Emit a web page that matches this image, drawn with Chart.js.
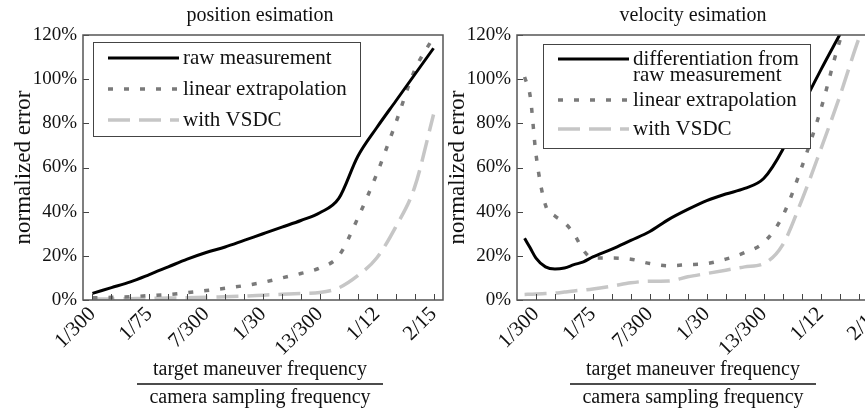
<!DOCTYPE html>
<html>
<head>
<meta charset="utf-8">
<script src="https://cdn.jsdelivr.net/npm/chart.js@4.4.1/dist/chart.umd.min.js"></script>
<style>
  html, body { margin: 0; padding: 0; background: #fff; overflow: hidden; }
  body { width: 865px; height: 411px; position: relative; }
  canvas { position: absolute; top: 0; }
  #pos { left: 0; }
  #vel { left: 434px; }
</style>
</head>
<body>
<canvas id="pos" width="446" height="411"></canvas>
<canvas id="vel" width="460" height="411"></canvas>
<script>
// x tick labels, one every third tick
const tickLabels = ['1/300', '1/75', '7/300', '1/30', '13/300', '1/12', '2/15'];
const tickIdx = [0, 1, 2, 3, 4, 5, 6, 7, 8, 9, 10, 11, 12, 13, 14, 15, 16, 17, 18];

// position panel (tick index -> normalized error %)
const posX = [0, 1, 2, 3, 4, 5, 6, 7, 8, 9, 10, 11, 12, 13, 14, 15, 16, 17, 18];
const posRaw = [3, 5.6, 8.2, 11.5, 15, 18.5, 21.5, 24, 27, 30, 33, 36, 39.5, 46, 65, 78, 90, 102, 114];
const posLinear = [1, 1.2, 1.5, 2, 2.5, 3.3, 4.3, 5.3, 6.5, 8, 10, 12, 14.5, 20, 37, 57, 80, 104, 119];
const posVsdc = [0.5, 0.5, 0.6, 0.7, 0.9, 1, 1.2, 1.5, 1.8, 2.2, 2.6, 3, 3.4, 5.5, 11, 19, 33, 51, 84];

// velocity panel
const velX = [-0.6, -0.3, 0, 0.5, 1, 1.5, 2, 2.5, 3, 4, 5, 6, 7, 8, 9, 10, 11, 12, 13, 14, 15, 16, 17, 18];
const velRaw = [28, 23.5, 19, 15, 14, 14.5, 16, 17.3, 19.5, 23, 27, 31, 36.5, 41, 45, 48, 50.5, 55, 68, 87, 104, 120, 136, 150];
const velLinear = [101, 92, 66, 43, 38, 35, 30, 22.5, 19, 19, 18.5, 16.5, 15.5, 16, 16.5, 18.5, 21.5, 26, 38, 60, 86, 117, 140, 160];
const velVsdc = [2.5, 2.6, 2.7, 2.9, 3.1, 3.6, 4.1, 4.5, 5, 6.3, 7.8, 8.5, 8.6, 10.5, 12, 13.5, 15, 16.5, 25, 45, 68, 92, 118, 140];

const posNames = ['raw measurement', 'linear extrapolation', 'with VSDC'];
const velNames = [['differentiation from', 'raw measurement'], 'linear extrapolation', 'with VSDC'];

const SERIF = "'Liberation Serif', 'Times New Roman', serif";

function pts(xs, ys) {
  return xs.map((x, i) => ({ x: x, y: ys[i] }));
}

// frame, inward ticks, boxed legend, title and fraction-style x title
const decorPlugin = {
  id: 'decor',
  afterDraw(chart, args, o) {
    const ctx = chart.ctx;
    const a = chart.chartArea;
    const xs = chart.scales.x, ys = chart.scales.y;
    ctx.save();

    ctx.strokeStyle = '#444';
    ctx.lineWidth = 1;
    ctx.beginPath();
    xs.ticks.forEach(t => {
      const px = Math.round(xs.getPixelForValue(t.value)) + 0.5;
      ctx.moveTo(px, a.bottom);
      ctx.lineTo(px, a.bottom - 6);
    });
    ys.ticks.forEach(t => {
      const py = Math.round(ys.getPixelForValue(t.value)) + 0.5;
      ctx.moveTo(a.left, py);
      ctx.lineTo(a.left + 6, py);
    });
    ctx.stroke();

    ctx.strokeStyle = '#555';
    ctx.lineWidth = 1.5;
    ctx.strokeRect(a.left, a.top, a.right - a.left, a.bottom - a.top);

    // legend box
    const bx = a.left + o.box.dx, by = a.top + o.box.dy;
    ctx.fillStyle = '#fff';
    ctx.fillRect(bx, by, o.box.w, o.box.h);
    ctx.strokeStyle = '#444';
    ctx.lineWidth = 1;
    ctx.strokeRect(bx + 0.5, by + 0.5, o.box.w, o.box.h);
    ctx.font = '21px ' + SERIF;
    ctx.textBaseline = 'middle';
    ctx.textAlign = 'left';
    chart.data.datasets.forEach((ds, i) => {
      const ry = by + o.box.rows[i];
      ctx.strokeStyle = ds.borderColor;
      ctx.lineWidth = ds.borderWidth;
      ctx.setLineDash(ds.borderDash || []);
      ctx.beginPath();
      ctx.moveTo(bx + 15, ry);
      ctx.lineTo(bx + 86, ry);
      ctx.stroke();
      ctx.setLineDash([]);
      ctx.fillStyle = '#111';
      const lines = Array.isArray(ds.label) ? ds.label : [ds.label];
      lines.forEach((s, k) => ctx.fillText(s, bx + 90, ry + k * o.box.gap));
    });

    // panel title
    ctx.font = '20px ' + SERIF;
    ctx.textAlign = 'center';
    ctx.fillStyle = '#111';
    const cx = a.left + o.centerDx;
    ctx.fillText(o.title, cx, 16);

    // fraction under the x axis
    ctx.fillText('target maneuver frequency', cx, 370);
    ctx.fillText('camera sampling frequency', cx, 398);
    ctx.strokeStyle = '#111';
    ctx.lineWidth = 1.5;
    ctx.beginPath();
    ctx.moveTo(cx - 123, 384);
    ctx.lineTo(cx + 123, 384);
    ctx.stroke();

    ctx.restore();
  }
};

function makeChart(id, title, names, xs, series, xMin, padRight, box, centerDx) {
  const styles = [
    { borderColor: '#000', borderWidth: 3, borderDash: [] },
    { borderColor: '#7a7a7a', borderWidth: 3.5, borderDash: [5, 11] },
    { borderColor: '#c6c6c6', borderWidth: 3.5, borderDash: [22, 9] }
  ];
  return new Chart(document.getElementById(id), {
    type: 'line',
    data: {
      datasets: series.map((ys, i) => Object.assign({
        label: names[i],
        data: pts(xs, ys),
        pointRadius: 0,
        fill: false,
        cubicInterpolationMode: 'monotone'
      }, styles[i]))
    },
    options: {
      responsive: false,
      animation: false,
      layout: { padding: { top: 35, right: padRight, left: 0, bottom: 0 } },
      plugins: {
        legend: { display: false },
        title: { display: false },
        tooltip: { enabled: false },
        decor: { title: title, box: box, centerDx: centerDx }
      },
      scales: {
        x: {
          type: 'linear',
          min: xMin,
          max: 18.5,
          grid: { display: false, drawTicks: false },
          border: { display: false },
          afterBuildTicks: s => { s.ticks = tickIdx.map(v => ({ value: v })); },
          afterFit: s => { s.height = 111; s.paddingLeft = 0; s.paddingRight = 0; },
          ticks: {
            autoSkip: false,
            minRotation: 45,
            maxRotation: 45,
            padding: 2,
            color: '#111',
            font: { family: SERIF, size: 21 },
            callback: v => (v % 3 === 0) ? tickLabels[v / 3] : ''
          }
        },
        y: {
          min: 0,
          max: 120,
          grid: { display: false, drawTicks: false },
          border: { display: false },
          afterFit: s => { s.width = 83; },
          ticks: {
            stepSize: 20,
            padding: 6,
            color: '#111',
            font: { family: SERIF, size: 19 },
            callback: v => v + '%'
          },
          title: {
            display: true,
            text: 'normalized error',
            color: '#111',
            font: { family: SERIF, size: 23 },
            padding: { top: 10, bottom: 0 }
          }
        }
      }
    },
    plugins: [decorPlugin]
  });
}

makeChart('pos', 'position esimation', posNames, posX, [posRaw, posLinear, posVsdc], -0.5, 3,
  { dx: 10, dy: 7, w: 267, h: 94, rows: [16, 47, 78], gap: 16 }, 177);
makeChart('vel', 'velocity esimation', velNames, velX, [velRaw, velLinear, velVsdc], -1, 7,
  { dx: 26, dy: 9, w: 267, h: 104, rows: [15, 56, 85], gap: 16 }, 176);
</script>
</body>
</html>
